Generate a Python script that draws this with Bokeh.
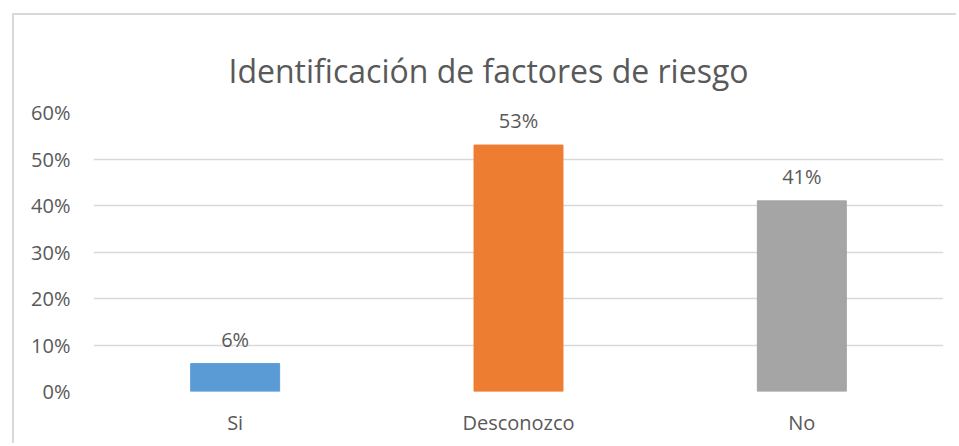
from bokeh.plotting import figure
from bokeh.models import ColumnDataSource, LabelSet, NumeralTickFormatter, FixedTicker, Range1d
from bokeh.core.properties import value
from bokeh.embed import file_html
from bokeh.resources import INLINE

title_text = "Identificación de factores de riesgo"
categories = ["Si", "Desconozco", "No"]
values = [0.06, 0.53, 0.41]
colors = ["#5B9BD5", "#ED7D31", "#A5A5A5"]
labels = ["6%", "53%", "41%"]
y_ticks = [0, 0.1, 0.2, 0.3, 0.4, 0.5, 0.6]

TEXT = "#595959"
FONT = "Open Sans"

src = ColumnDataSource(dict(cat=categories, val=values, col=colors, lab=labels))

p = figure(x_range=categories, y_range=Range1d(0, 0.6), width=944, height=430,
           output_backend="svg", toolbar_location=None, title=title_text,
           min_border_left=79, min_border_right=15, min_border_top=97, min_border_bottom=54)
p.margin = (13, 0, 0, 12)
p.styles = {"border-left": "2px solid #D9D9D9", "border-top": "2px solid #D9D9D9"}

p.vbar(x="cat", top="val", width=0.314, color="col", source=src)

p.add_layout(LabelSet(x="cat", y="val", text="lab", source=src, y_offset=17,
                      text_align="center", text_baseline="alphabetic",
                      text_font=value(FONT), text_font_size=value("20px"), text_color=TEXT))

p.title.align = "left"
p.title.offset = 135
p.title.standoff = 37
p.title.vertical_align = "top"
p.title.text_font = FONT
p.title.text_font_size = "32px"
p.title.text_font_style = "normal"
p.title.text_color = TEXT

p.outline_line_color = None
p.xgrid.grid_line_color = None
p.ygrid.grid_line_color = "#D9D9D9"
p.ygrid.grid_line_width = 1.5

p.yaxis.ticker = FixedTicker(ticks=y_ticks)
p.yaxis.formatter = NumeralTickFormatter(format="0%")
for ax in (p.xaxis, p.yaxis):
    ax.axis_line_color = None
    ax.major_tick_line_color = None
    ax.minor_tick_line_color = None
    ax.major_tick_out = 0
    ax.major_tick_in = 0
    ax.major_label_text_font = FONT
    ax.major_label_text_font_size = "20px"
    ax.major_label_text_color = TEXT
p.yaxis.major_label_standoff = 23
p.xaxis.major_label_standoff = 17

open("out.html", "w").write(file_html(p, INLINE))
